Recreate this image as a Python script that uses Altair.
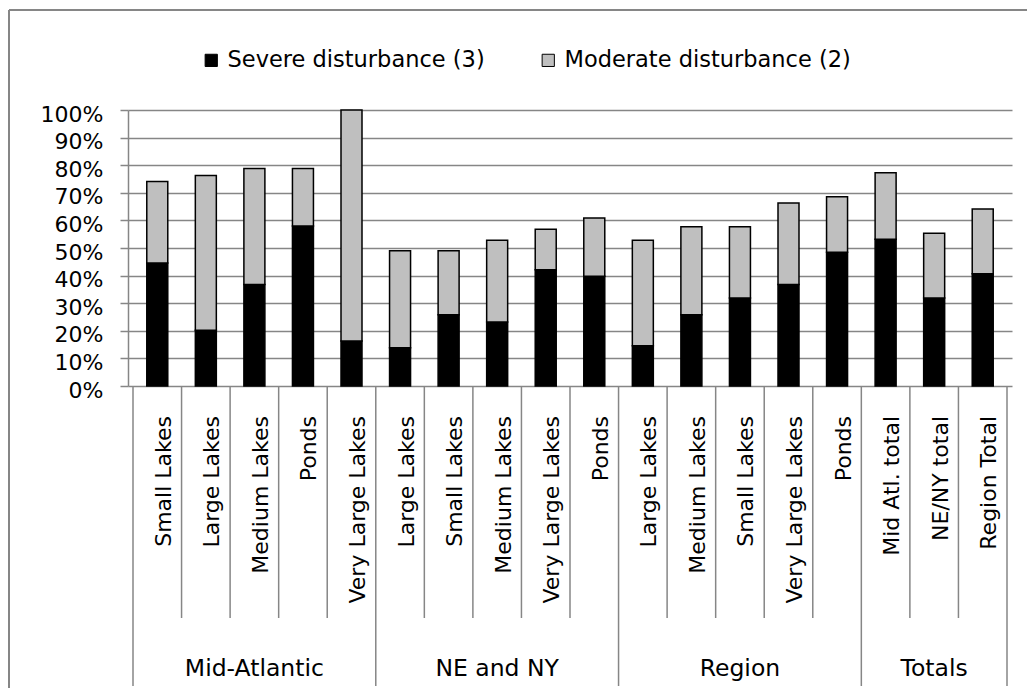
import altair as alt
import pandas as pd

# ---- data ----
groups = ["Mid-Atlantic", "NE and  NY", "Region", "Totals"]
group_sizes = [5, 5, 5, 3]
categories = [
    "Small Lakes", "Large Lakes", "Medium Lakes", "Ponds", "Very Large Lakes",
    "Large Lakes", "Small Lakes", "Medium Lakes", "Very Large Lakes", "Ponds",
    "Large Lakes", "Medium Lakes", "Small Lakes", "Very Large Lakes", "Ponds",
    "Mid Atl. total", "NE/NY total", "Region Total",
]
severe = [44.6, 20.2, 36.8, 58.0, 16.3,
          13.9, 25.8, 23.2, 42.1, 39.8,
          14.6, 25.8, 31.9, 36.8, 48.5,
          53.2, 31.9, 40.7]
moderate = [29.5, 56.1, 42.0, 20.8, 83.7,
            35.1, 23.2, 29.6, 14.7, 21.1,
            38.2, 31.9, 25.8, 29.5, 20.1,
            24.1, 23.4, 23.4]
series = ["Severe disturbance (3)", "Moderate disturbance (2)"]
series_colors = ["#000000", "#bfbfbf"]
y_ticks = [0, 10, 20, 30, 40, 50, 60, 70, 80, 90, 100]

FONT = "DejaVu Sans"
GRID = "#868686"
W, H = 884, 276

# ---- tables ----
bar_rows = []
for i, cat in enumerate(categories):
    s, m = severe[i], moderate[i]
    bar_rows.append(dict(pos=i + 0.5, cat=cat, series=series[0], lo=0, hi=s))
    bar_rows.append(dict(pos=i + 0.5, cat=cat, series=series[1], lo=s, hi=s + m))
bars_df = pd.DataFrame(bar_rows)

cat_df = pd.DataFrame({"pos": [i + 0.5 for i in range(len(categories))], "cat": categories})

bound_rows, group_rows = [], []
start = 0
for g, n in zip(groups, group_sizes):
    bound_rows.append(dict(b=start, kind="major"))
    for k in range(1, n):
        bound_rows.append(dict(b=start + k, kind="minor"))
    group_rows.append(dict(g=g, c=start + n / 2))
    start += n
bound_rows.append(dict(b=start, kind="major"))
bounds_df = pd.DataFrame(bound_rows)
groups_df = pd.DataFrame(group_rows)

xs = alt.Scale(domain=[0, len(categories)], nice=False, zero=False)
ys = alt.Scale(domain=[0, 100], nice=False)

bars = alt.Chart(bars_df).mark_bar(size=21, stroke="black", strokeWidth=1.5).encode(
    x=alt.X("pos:Q", scale=xs, axis=None),
    y=alt.Y("lo:Q", scale=ys, title=None,
            axis=alt.Axis(values=y_ticks, labelExpr="datum.value + '%'",
                          grid=True, gridColor=GRID, gridWidth=1.5,
                          domainColor=GRID, domainWidth=1.5,
                          tickColor=GRID, tickWidth=1.5, tickSize=8,
                          labelPadding=17, labelFont=FONT, labelFontSize=22,
                          labelColor="black", labelOffset=4)),
    y2="hi:Q",
    color=alt.Color("series:N",
                    scale=alt.Scale(domain=series, range=series_colors),
                    legend=alt.Legend(orient="none", legendX=72, legendY=-61,
                                      direction="horizontal", title=None,
                                      symbolType="square", symbolSize=150,
                                      symbolStrokeColor="black", symbolStrokeWidth=1,
                                      labelFont=FONT, labelFontSize=22.5,
                                      labelColor="black", columnPadding=52,
                                      labelOffset=5, labelLimit=500, padding=0)),
)

minor = alt.Chart(bounds_df).transform_filter("datum.kind == 'minor'").mark_rule(
    color=GRID, strokeWidth=1.5).encode(
    x=alt.X("b:Q", scale=xs, axis=None), y=alt.value(H), y2=alt.value(508))
major = alt.Chart(bounds_df).transform_filter("datum.kind == 'major'").mark_rule(
    color=GRID, strokeWidth=1.5).encode(
    x=alt.X("b:Q", scale=xs, axis=None), y=alt.value(H), y2=alt.value(576))

cat_text = alt.Chart(cat_df).mark_text(
    angle=270, align="right", baseline="alphabetic", font=FONT, fontSize=22,
    color="black", xOffset=13.5).encode(
    x=alt.X("pos:Q", scale=xs, axis=None), y=alt.value(306), text="cat:N")

grp_text = alt.Chart(groups_df).mark_text(
    align="center", baseline="alphabetic", font=FONT, fontSize=23.5, color="black").encode(
    x=alt.X("c:Q", scale=xs, axis=None), y=alt.value(566), text="g:N")

frame_df = pd.DataFrame({"k": [0]})
top_border = alt.Chart(frame_df).mark_rule(color=GRID, strokeWidth=2).encode(
    x=alt.value(-119), x2=alt.value(W + 15), y=alt.value(-100))
left_border = alt.Chart(frame_df).mark_rule(color=GRID, strokeWidth=2).encode(
    x=alt.value(-119), y=alt.value(-100), y2=alt.value(H + 302))

chart = alt.layer(minor, major, bars, cat_text, grp_text, top_border, left_border).properties(
    width=W, height=H,
    padding={"left": 120, "top": 102, "right": 15, "bottom": 302},
    autosize=alt.AutoSizeParams(type="none"),
    background="white",
).configure_view(stroke=None)

chart.save("out.html", embed_options={"renderer": "svg", "actions": False})
